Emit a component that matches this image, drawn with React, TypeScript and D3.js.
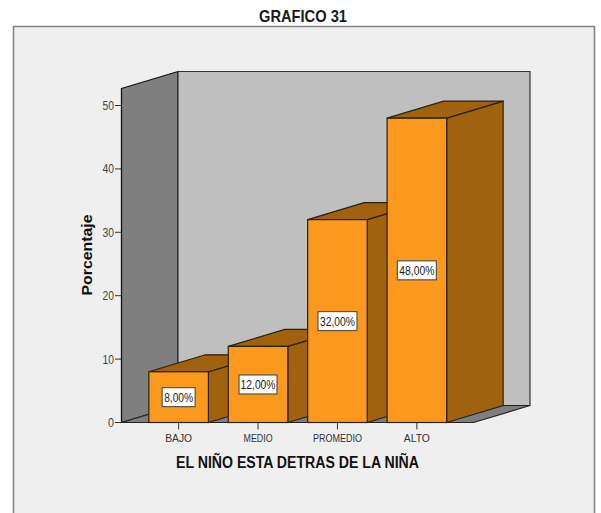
import React from "react";
import * as d3 from "d3";

const categories = ["BAJO", "MEDIO", "PROMEDIO", "ALTO"];
const percentages = [8, 12, 32, 48];
const valueLabels = ["8,00%", "12,00%", "32,00%", "48,00%"];
const yTicks = [0, 10, 20, 30, 40, 50];
const boxWidths = [33, 38, 39, 39];
const valueTextWidths = [29, 35, 35, 35];
const categoryTextWidths = [27, 29, 49, 26];

const FONT = "'Liberation Sans', Arial, sans-serif";
const DX = 56.5;
const DY = -17;
const ORANGE = "#fb991f";
const BROWN = "#a16210";
const LINE = "#2a2112";

export default function App() {
  const y = d3.scaleLinear().domain([0, 50]).range([422.5, 105.5]);
  const x = d3.scaleBand<string>().domain(categories).range([129, 466.5]).padding(0.25);
  const y0 = y(0);
  const wallLeft = 121.5;
  const wallTop = 88.5;
  const floorRight = 473.5;
  const poly = (pts: [number, number][]) => pts.map((p) => p.join(",")).join(" ");

  return (
    <svg width={601} height={513} style={{ position: "absolute", left: 0, top: 0 }} fontFamily={FONT}>
      <rect width={601} height={513} fill="#fff" />
      <text x={303} y={21.5} textAnchor="middle" fontSize={16.5} fontWeight={700} fill="#1a1a1a" textLength={88} lengthAdjust="spacingAndGlyphs">GRAFICO 31</text>
      <path d="M13.5,513 V26.5 H594.5 V513" fill="#efefef" stroke="#858585" strokeWidth={1.6} />

      <polygon points={poly([[wallLeft, wallTop], [wallLeft + DX, wallTop + DY], [wallLeft + DX, y0 + DY], [wallLeft, y0]])} fill="#7f7f7f" stroke="#111" strokeWidth={1.3} />
      <polygon points={poly([[wallLeft + DX, wallTop + DY], [floorRight + DX, wallTop + DY], [floorRight + DX, y0 + DY], [wallLeft + DX, y0 + DY]])} fill="#bfbfbf" stroke="#333" strokeWidth={1.2} />
      <polygon points={poly([[wallLeft, y0], [wallLeft + DX, y0 + DY], [floorRight + DX, y0 + DY], [floorRight, y0]])} fill="#7f7f7f" stroke="#222" strokeWidth={1.2} />

      {categories.map((c, i) => {
        const x0 = x(c)!;
        const w = x.bandwidth();
        const top = y(percentages[i]);
        const mid = (top + y0) / 2;
        const bw = boxWidths[i];
        return (
          <g key={c}>
            <polygon points={poly([[x0 + w, top], [x0 + w + DX, top + DY], [x0 + w + DX, y0 + DY], [x0 + w, y0]])} fill={BROWN} stroke={LINE} strokeWidth={1.2} />
            <polygon points={poly([[x0, top], [x0 + DX, top + DY], [x0 + w + DX, top + DY], [x0 + w, top]])} fill={BROWN} stroke={LINE} strokeWidth={1.2} />
            <rect x={x0} y={top} width={w} height={y0 - top} fill={ORANGE} stroke={LINE} strokeWidth={1.2} />
            <rect x={x0 + w / 2 - bw / 2} y={mid - 9.5} width={bw} height={19} fill="#fff" stroke="#5b5346" strokeWidth={1.2} />
            <text x={x0 + w / 2} y={mid + 4.5} textAnchor="middle" fontSize={12.5} fill="#222" textLength={valueTextWidths[i]} lengthAdjust="spacingAndGlyphs">{valueLabels[i]}</text>
            <line x1={x0 + w / 2} x2={x0 + w / 2} y1={y0} y2={y0 + 7} stroke="#333" />
            <text x={x0 + w / 2} y={y0 + 19.5} textAnchor="middle" fontSize={11} fill="#333" textLength={categoryTextWidths[i]} lengthAdjust="spacingAndGlyphs">{c}</text>
          </g>
        );
      })}

      {yTicks.map((t) => (
        <g key={t}>
          <line x1={115} x2={wallLeft} y1={y(t)} y2={y(t)} stroke="#333" />
          <text x={114} y={y(t) + 4.5} textAnchor="end" fontSize={12} fill="#444" textLength={t === 0 ? 6 : 11.5} lengthAdjust="spacingAndGlyphs">{t}</text>
        </g>
      ))}

      <text transform="translate(92,255) rotate(-90)" textAnchor="middle" fontSize={14.5} fontWeight={700} fill="#111" textLength={81} lengthAdjust="spacingAndGlyphs">Porcentaje</text>
      <text x={297.5} y={468} textAnchor="middle" fontSize={16} fontWeight={700} fill="#111" textLength={243} lengthAdjust="spacingAndGlyphs">EL NIÑO ESTA DETRAS DE LA NIÑA</text>
    </svg>
  );
}
